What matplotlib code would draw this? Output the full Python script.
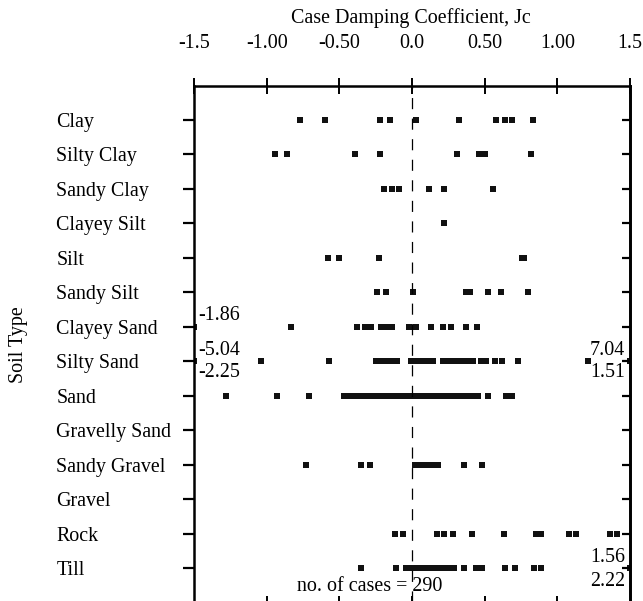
import numpy as np
import matplotlib.pyplot as plt

plt.rcParams["font.family"] = ["Liberation Serif", "DejaVu Serif"]
plt.rcParams["font.size"] = 14.4
plt.rcParams["lines.scale_dashes"] = False

soil_types = ["Clay", "Silty Clay", "Sandy Clay", "Clayey Silt", "Silt", "Sandy Silt",
              "Clayey Sand", "Silty Sand", "Sand", "Gravelly Sand", "Sandy Gravel",
              "Gravel", "Rock", "Till"]

# Case damping values (Jc), one list per soil type
clay = [-0.77, -0.60, -0.22, -0.15, 0.03, 0.32, 0.58, 0.64, 0.69, 0.83]
silty_clay = [-0.94, -0.86, -0.39, -0.22, 0.31, 0.46, 0.50, 0.82]
sandy_clay = [-0.19, -0.14, -0.09, 0.12, 0.22, 0.56]
clayey_silt = [0.22]
silt = [-0.58, -0.50, -0.23, 0.76, 0.77]
sandy_silt = [-0.24, -0.18, 0.01, 0.37, 0.40, 0.52, 0.61, 0.80]
clayey_sand = [-1.86, -0.83, -0.38, -0.32, -0.28, -0.21, -0.17, -0.14, -0.02, 0.03,
               0.13, 0.21, 0.27, 0.37, 0.45]
silty_sand = [-5.04, -2.25, -1.04, -0.57, -0.25, -0.22, -0.19, -0.16, -0.13, -0.10,
              -0.01, 0.02, 0.05, 0.08, 0.11, 0.145, 0.21, 0.24, 0.27, 0.30, 0.33,
              0.36, 0.39, 0.42, 0.475, 0.51, 0.57, 0.62, 0.73, 1.21, 1.51, 7.04]
sand = [-1.28, -0.93, -0.71, -0.47, -0.45, -0.43, -0.41, -0.39, -0.37, -0.35, -0.33,
        -0.31, -0.29, -0.27, -0.25, -0.23, -0.21, -0.19, -0.17, -0.15, -0.13, -0.11,
        -0.09, -0.07, -0.05, -0.03, -0.01, 0.01, 0.03, 0.05, 0.07, 0.09, 0.11, 0.13,
        0.15, 0.17, 0.19, 0.21, 0.23, 0.25, 0.27, 0.29, 0.31, 0.33, 0.35, 0.37, 0.39,
        0.41, 0.43, 0.455, 0.52, 0.65, 0.69]
gravelly_sand = []
sandy_gravel = [-0.73, -0.35, -0.29, 0.02, 0.05, 0.08, 0.11, 0.14, 0.18, 0.36, 0.48]
gravel = []
rock = [-0.12, -0.06, 0.17, 0.22, 0.28, 0.41, 0.63, 0.85, 0.89, 1.08, 1.13, 1.36, 1.41]
till = [-0.35, -0.11, -0.04, -0.01, 0.02, 0.05, 0.08, 0.11, 0.14, 0.17, 0.20, 0.23,
        0.26, 0.29, 0.36, 0.44, 0.48, 0.64, 0.71, 0.84, 0.89, 1.56, 2.22]

series = [clay, silty_clay, sandy_clay, clayey_silt, silt, sandy_silt, clayey_sand,
          silty_sand, sand, gravelly_sand, sandy_gravel, gravel, rock, till]

xticks = [-1.5, -1.0, -0.5, 0.0, 0.5, 1.0, 1.5]
xticklabels = ["-1.5", "-1.00", "-0.50", "0.0", "0.50", "1.00", "1.5"]

# off-scale values written next to the axis edges
notes = [(-1.47, 7, "-1.86", "left", -0.32), (-1.47, 8, "-5.04", "left", -0.32),
         (-1.47, 8, "-2.25", "left", 0.32), (1.465, 8, "7.04", "right", -0.32),
         (1.465, 8, "1.51", "right", 0.32), (1.465, 14, "1.56", "right", -0.30),
         (1.465, 14, "2.22", "right", 0.38)]

fig = plt.figure(figsize=(6.43, 6.01), dpi=100)
ax = fig.add_axes([194 / 643, -1.5 / 601, 436 / 643, 517 / 601])
ax_r = ax.twinx()
ax_b = ax.twiny()

for i, vals in enumerate(series):
    if len(vals) == 0:
        continue
    v = np.clip(np.array(vals), -1.5, 1.5)
    ax.plot(v, np.full(len(v), i + 1), "s", color="#111111", ms=4.6, mew=0, clip_on=True)

ax.axvline(0, color="black", lw=0.9, dashes=(8, 6.8))

ax.set_xlim(-1.5, 1.5)
ax.set_ylim(15, 0)

# main axis: labels on top
ax.xaxis.tick_top()
ax.set_xticks(xticks)
ax.set_xticklabels(xticklabels)
ax.tick_params(axis="x", direction="inout", length=11, width=1.4, pad=18,
               labeltop=True, labelbottom=False)

ax.set_yticks(range(1, 15))
ax.set_yticklabels(soil_types, ha="left")
ax.tick_params(axis="y", direction="out", length=8, width=1.6, pad=91)

for s in ["left", "right", "top"]:
    ax.spines[s].set_linewidth(1.8)
ax.spines["bottom"].set_visible(False)

# right side ticks pointing inwards
ax_r.set_ylim(15, 0)
ax_r.set_yticks(range(1, 15))
ax_r.tick_params(axis="y", direction="in", length=6, width=1.6, labelright=False)
for s in ["left", "top", "bottom"]:
    ax_r.spines[s].set_visible(False)
ax_r.spines["right"].set_linewidth(2.0)

# bottom ticks pointing inwards
ax_b.set_xlim(-1.5, 1.5)
ax_b.xaxis.tick_bottom()
ax_b.set_xticks([-1.0, -0.5, 0.0, 0.5, 1.0])
ax_b.tick_params(axis="x", direction="in", length=5, width=1.4,
                 labelbottom=False, labeltop=False)
for s in ax_b.spines.values():
    s.set_visible(False)

for x, row, txt, ha, dy in notes:
    ax.text(x, row + dy, txt, ha=ha, va="center")

ax.text(-0.79, 14.55, "no. of cases = 290", ha="left", va="center")

fig.text(411 / 643, 1 - 18 / 601, "Case Damping Coefficient, Jc", ha="center", va="center")
fig.text(18 / 643, 1 - 345 / 601, "Soil Type", rotation=90, ha="center", va="center")

fig.savefig("out.png", dpi=100)
